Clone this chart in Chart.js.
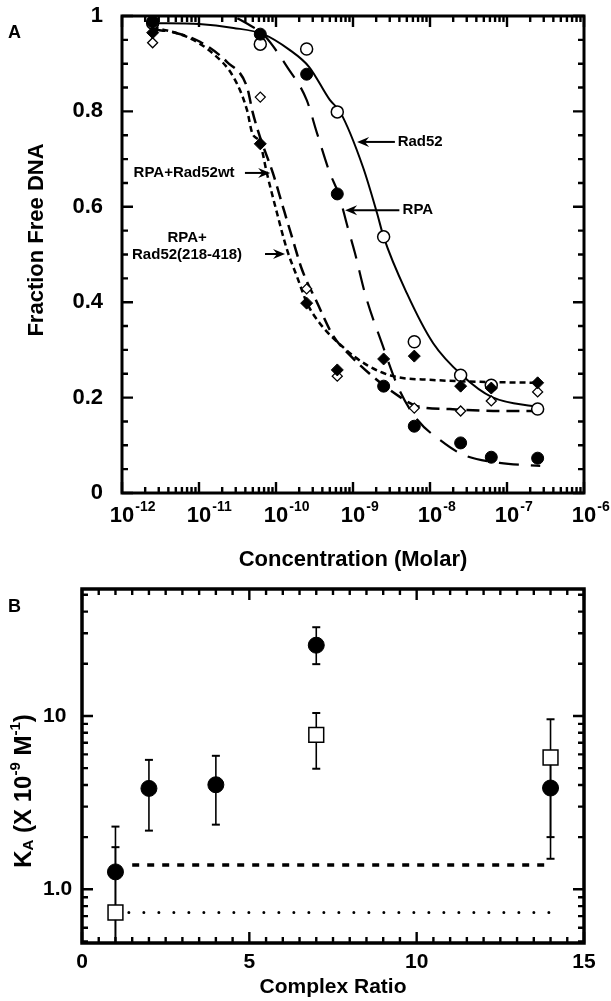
<!DOCTYPE html>
<html>
<head>
<meta charset="utf-8">
<title>Fraction free DNA / K_A</title>
<script src="https://cdn.jsdelivr.net/npm/chart.js@4.4.1/dist/chart.umd.min.js"></script>
<style>
    body { margin: 0; background: #fff; }
    canvas { position: absolute; left: 0; }
    #chartA { top: 0; }
    #chartB { top: 575px; }
</style>
</head>
<body>
<canvas id="chartA" width="611" height="575"></canvas>
<canvas id="chartB" width="611" height="426"></canvas>
<script>
// ---- panel A data: fraction free DNA vs concentration (M)
var conc = [2.5e-12, 6.25e-11, 2.5e-10, 6.25e-10, 2.5e-9, 6.25e-9, 2.5e-8, 6.25e-8, 2.5e-7];
var rad52Free = [0.985, 0.941, 0.931, 0.799, 0.537, 0.317, 0.247, 0.226, 0.176];
var rpaFree = [0.988, 0.962, 0.878, 0.627, 0.224, 0.140, 0.105, 0.075, 0.073];
var wtFree = [0.965, 0.732, 0.398, 0.258, 0.281, 0.287, 0.224, 0.220, 0.231];
var truncFree = [0.944, 0.830, 0.428, 0.245, null, 0.178, 0.172, 0.193, 0.212];

// fitted curves
var rad52FitX = [2.5e-12, 1.0e-11, 2.8e-11, 6.8e-11, 1.5e-10, 2.7e-10, 5.0e-10, 6.8e-10, 1.35e-9, 2.05e-9, 2.5e-9, 5.0e-9, 1.1e-8, 2.6e-8, 6.4e-8, 2.6e-7];
var rad52FitY = [0.985, 0.983, 0.975, 0.962, 0.929, 0.893, 0.824, 0.799, 0.683, 0.587, 0.537, 0.419, 0.314, 0.247, 0.201, 0.180];
var rpaFitX = [2.5e-12, 1.0e-11, 2.8e-11, 5.0e-11, 6.8e-11, 1.4e-10, 2.5e-10, 3.4e-10, 5.0e-10, 6.5e-10, 8.5e-10, 1.06e-9, 1.45e-9, 2.37e-9, 4.0e-9, 6.9e-9, 1.35e-8, 2.7e-8, 8.0e-8, 2.7e-7];
var rpaFitY = [1.09, 1.04, 1.0, 0.977, 0.962, 0.893, 0.824, 0.755, 0.671, 0.627, 0.558, 0.503, 0.415, 0.314, 0.216, 0.153, 0.111, 0.080, 0.063, 0.057];
var wtFitX = [2.5e-12, 7.0e-12, 1.5e-11, 2.8e-11, 4.2e-11, 4.9e-11, 6.2e-11, 7.6e-11, 1.03e-10, 1.39e-10, 1.88e-10, 2.53e-10, 3.7e-10, 7.4e-10, 1.52e-9, 3.3e-9, 1.09e-8, 4.5e-8, 2.6e-7];
var wtFitY = [0.977, 0.956, 0.922, 0.872, 0.803, 0.755, 0.734, 0.671, 0.587, 0.51, 0.453, 0.398, 0.356, 0.306, 0.268, 0.245, 0.237, 0.233, 0.231];
var truncFitX = [2.5e-12, 4.6e-12, 1.03e-11, 2.3e-11, 4.2e-11, 5.0e-11, 6.2e-11, 9.1e-11, 1.23e-10, 1.66e-10, 2.18e-10, 3.4e-10, 5.5e-10, 9.1e-10, 2.05e-9, 4.1e-9, 6.8e-9, 1.8e-8, 8.1e-8, 2.6e-7];
var truncFitY = [0.972, 0.966, 0.946, 0.904, 0.851, 0.797, 0.746, 0.671, 0.600, 0.530, 0.468, 0.40, 0.33, 0.289, 0.237, 0.201, 0.182, 0.176, 0.172, 0.172];

var decades = [-12, -11, -10, -9, -8, -7, -6];

// ---- panel B data: K_A vs complex ratio
var ratio = [1, 2, 4, 7, 14];
var kaWt = [1.26, 3.82, 4.01, 25.6, 3.84];
var kaWtLow = [0.3, 2.18, 2.36, 19.9, 1.50];
var kaWtHigh = [2.30, 5.58, 5.89, 32.5, 5.9];
var ratioTrunc = [1, 7, 14];
var kaTrunc = [0.735, 7.78, 5.76];
var kaTruncLow = [0.3, 4.96, 2.0];
var kaTruncHigh = [1.75, 10.4, 9.57];
var wtRefX = [1.5, 13.9];
var wtRefY = [1.38, 1.38];
var truncRefX = [1.4, 13.95];
var truncRefY = [0.735, 0.735];
var kaTickValues = [1, 10];
var kaTickText = ['1.0', '10'];

var family = "'Liberation Sans', Arial, Helvetica, sans-serif";
Chart.defaults.font.family = family;
Chart.defaults.color = '#000';

function pairs(xs, ys) {
    var out = [];
    for (var i = 0; i < xs.length; i++) {
        if (ys[i] !== null) out.push({x: xs[i], y: ys[i]});
    }
    return out;
}

function markers(data, style, radius, fill, width) {
    return {
        type: 'scatter', data: data, showLine: false, order: 0,
        pointStyle: style, pointRadius: radius, pointHoverRadius: radius,
        pointBackgroundColor: fill, pointBorderColor: '#000', pointBorderWidth: width
    };
}

function curve(data, dash, width, cap) {
    return {
        type: 'line', data: data, order: 2, pointRadius: 0, fill: false,
        borderColor: '#000', borderWidth: width, borderDash: dash,
        borderCapStyle: cap || 'butt', cubicInterpolationMode: 'monotone'
    };
}

function logTicks(lo, hi) {
    var out = [];
    for (var e = lo; e < hi; e++) {
        for (var m = 1; m <= 9; m++) out.push({v: m * Math.pow(10, e), major: m === 1});
    }
    out.push({v: Math.pow(10, hi), major: true});
    return out;
}

function linTicks(max, step, every) {
    var out = [];
    for (var i = 0; i * step <= max + 1e-9; i++) out.push({v: i * step, major: i % every === 0});
    return out;
}

// box frame with inward ticks on all four sides
function framePlugin(xTicks, yTicks, border) {
    return {
        id: 'frame',
        afterDatasetsDraw: function (chart) {
            var ctx = chart.ctx;
            var a = chart.chartArea;
            var sx = chart.scales.x;
            var sy = chart.scales.y;
            ctx.save();
            ctx.strokeStyle = '#000';
            ctx.lineWidth = 2.4;
            ctx.beginPath();
            xTicks.forEach(function (t) {
                var p = sx.getPixelForValue(t.v);
                var len = t.major ? 11 : 6;
                ctx.moveTo(p, a.bottom); ctx.lineTo(p, a.bottom - len);
                ctx.moveTo(p, a.top); ctx.lineTo(p, a.top + len);
            });
            yTicks.forEach(function (t) {
                var p = sy.getPixelForValue(t.v);
                var len = t.major ? 11 : 6;
                ctx.moveTo(a.left, p); ctx.lineTo(a.left + len, p);
                ctx.moveTo(a.right, p); ctx.lineTo(a.right - len, p);
            });
            ctx.stroke();
            ctx.lineWidth = border;
            ctx.strokeRect(a.left, a.top, a.right - a.left, a.bottom - a.top);
            ctx.restore();
        }
    };
}

function arrow(ctx, x1, x2, y) {
    var dir = x2 > x1 ? 1 : -1;
    ctx.beginPath();
    ctx.moveTo(x1, y);
    ctx.lineTo(x2 - dir * 6, y);
    ctx.stroke();
    ctx.beginPath();
    ctx.moveTo(x2, y);
    ctx.lineTo(x2 - dir * 12, y - 5);
    ctx.lineTo(x2 - dir * 8, y);
    ctx.lineTo(x2 - dir * 12, y + 5);
    ctx.closePath();
    ctx.fill();
}

// ---------------- panel A
var notesA = [
    {lines: ['Rad52'], x: 3.8e-9, y: 0.736, align: 'left', from: 3.5e-9, to: 1.13e-9, ay: 0.736},
    {lines: ['RPA'], x: 4.4e-9, y: 0.593, align: 'left', from: 4.0e-9, to: 7.9e-10, ay: 0.593},
    {lines: ['RPA+Rad52wt'], x: 2.9e-11, y: 0.671, align: 'right', from: 3.95e-11, to: 8.4e-11, ay: 0.671},
    {lines: ['RPA+', 'Rad52(218-418)'], x: 7.0e-12, y: 0.535, align: 'center', from: 7.2e-11, to: 1.31e-10, ay: 0.501}
];

var textA = {
    id: 'textA',
    afterDraw: function (chart) {
        var ctx = chart.ctx;
        var a = chart.chartArea;
        var sx = chart.scales.x;
        var sy = chart.scales.y;
        ctx.save();
        ctx.fillStyle = '#000';
        ctx.strokeStyle = '#000';

        ctx.font = 'bold 18px ' + family;
        ctx.textAlign = 'left';
        ctx.textBaseline = 'alphabetic';
        ctx.fillText('A', 8, 38);

        // decade labels 10^n
        decades.forEach(function (e) {
            var p = sx.getPixelForValue(Math.pow(10, e));
            ctx.font = 'bold 22px ' + family;
            var w = ctx.measureText('10').width;
            ctx.textAlign = 'center';
            ctx.fillText('10', p, a.bottom + 29);
            ctx.font = 'bold 14px ' + family;
            ctx.textAlign = 'left';
            ctx.fillText(String(e), p + w / 2 + 1, a.bottom + 18);
        });

        // y title
        ctx.save();
        ctx.translate(37, 240);
        ctx.rotate(-Math.PI / 2);
        ctx.font = 'bold 22px ' + family;
        ctx.textAlign = 'center';
        ctx.textBaseline = 'middle';
        ctx.fillText('Fraction Free DNA', 0, 0);
        ctx.restore();

        // curve labels with arrows
        ctx.font = 'bold 15px ' + family;
        ctx.textBaseline = 'middle';
        ctx.lineWidth = 2;
        notesA.forEach(function (n) {
            var px = sx.getPixelForValue(n.x);
            var py = sy.getPixelForValue(n.y);
            ctx.textAlign = n.align;
            n.lines.forEach(function (t, i) {
                ctx.fillText(t, px, py + i * 17);
            });
            arrow(ctx, sx.getPixelForValue(n.from), sx.getPixelForValue(n.to), sy.getPixelForValue(n.ay));
        });
        ctx.restore();
    }
};

var xTicksA = logTicks(-12, -6);
var yTicksA = linTicks(1, 0.05, 4);

new Chart(document.getElementById('chartA'), {
    type: 'scatter',
    data: {
        datasets: [
            markers(pairs(conc, rpaFree), 'circle', 6, '#000', 1),
            markers(pairs(conc, wtFree), 'rectRot', 6, '#000', 1),
            markers(pairs(conc, truncFree), 'rectRot', 5, '#fff', 1.3),
            markers(pairs(conc, rad52Free), 'circle', 6, '#fff', 1.5),
            curve(pairs(rad52FitX, rad52FitY), [], 2),
            curve(pairs(rpaFitX, rpaFitY), [20, 12], 2.2),
            curve(pairs(wtFitX, wtFitY), [6, 4], 2.5),
            curve(pairs(truncFitX, truncFitY), [13, 7], 2.5)
        ]
    },
    options: {
        responsive: false,
        animation: false,
        devicePixelRatio: 1,
        events: [],
        layout: {padding: {left: 0, right: 27, top: 16, bottom: 0}},
        plugins: {legend: {display: false}, tooltip: {enabled: false}},
        scales: {
            x: {
                type: 'logarithmic', min: 1e-12, max: 1e-6, bounds: 'data',
                grid: {display: false, drawTicks: false},
                border: {display: false},
                ticks: {display: false},
                title: {
                    display: true, text: 'Concentration (Molar)',
                    font: {size: 22, weight: 'bold'}, padding: {top: 0, bottom: 2}
                },
                afterFit: function (s) { s.height = 82; }
            },
            y: {
                min: 0, max: 1,
                grid: {display: false, drawTicks: true, tickLength: 19},
                border: {display: false},
                ticks: {
                    stepSize: 0.2, padding: 0,
                    font: {size: 22, weight: 'bold'},
                    callback: function (v) {
                        var r = Math.round(v * 10) / 10;
                        return (r === 0 || r === 1) ? String(r) : r.toFixed(1);
                    }
                },
                afterFit: function (s) { s.width = 122; }
            }
        }
    },
    plugins: [framePlugin(xTicksA, yTicksA, 3), textA]
});

// ---------------- panel B
var textB = {
    id: 'textB',
    afterDraw: function (chart) {
        var ctx = chart.ctx;
        var sy = chart.scales.y;
        ctx.save();
        ctx.fillStyle = '#000';
        ctx.font = 'bold 18px ' + family;
        ctx.textAlign = 'left';
        ctx.textBaseline = 'alphabetic';
        ctx.fillText('B', 8, 37);

        ctx.font = 'bold 21px ' + family;
        ctx.textBaseline = 'middle';
        kaTickValues.forEach(function (v, i) {
            ctx.fillText(kaTickText[i], 43, sy.getPixelForValue(v));
        });

        // rotated title with sub/superscripts
        var segs = [
            {t: 'K', size: 24, dy: 0},
            {t: 'A', size: 15, dy: 5},
            {t: ' (X 10', size: 24, dy: 0},
            {t: '-9', size: 15, dy: -8},
            {t: ' M', size: 24, dy: 0},
            {t: '-1', size: 15, dy: -8},
            {t: ')', size: 24, dy: 0}
        ];
        var total = 0;
        segs.forEach(function (s) {
            ctx.font = 'bold ' + s.size + 'px ' + family;
            s.w = ctx.measureText(s.t).width;
            total += s.w;
        });
        ctx.translate(24, 216);
        ctx.rotate(-Math.PI / 2);
        var x = -total / 2;
        segs.forEach(function (s) {
            ctx.font = 'bold ' + s.size + 'px ' + family;
            ctx.fillText(s.t, x, s.dy);
            x += s.w;
        });
        ctx.restore();
    }
};

function errorBars(xs, lows, highs) {
    var out = [];
    for (var i = 0; i < xs.length; i++) {
        out.push({
            type: 'line', order: 1, fill: false,
            data: [{x: xs[i], y: lows[i]}, {x: xs[i], y: highs[i]}],
            borderColor: '#000', borderWidth: 1.6,
            pointStyle: 'line', pointRadius: 4, pointHoverRadius: 4,
            pointBorderColor: '#000', pointBorderWidth: 2
        });
    }
    return out;
}

var xTicksB = linTicks(15, 0.5, 10);
var yTicksB = logTicks(-1, 2).filter(function (t) { return t.v >= 0.49 && t.v <= 54; });

var datasetsB = [
    markers(pairs(ratioTrunc, kaTrunc), 'rect', 10.5, '#fff', 1.5),
    markers(pairs(ratio, kaWt), 'circle', 8, '#000', 1)
]
    .concat(errorBars(ratio, kaWtLow, kaWtHigh))
    .concat(errorBars(ratioTrunc, kaTruncLow, kaTruncHigh))
    .concat([
        curve(pairs(wtRefX, wtRefY), [7, 8], 3.5),
        curve(pairs(truncRefX, truncRefY), [0, 15], 3, 'round')
    ]);

new Chart(document.getElementById('chartB'), {
    type: 'scatter',
    data: {datasets: datasetsB},
    options: {
        responsive: false,
        animation: false,
        devicePixelRatio: 1,
        events: [],
        layout: {padding: {left: 0, right: 27, top: 14, bottom: 0}},
        plugins: {legend: {display: false}, tooltip: {enabled: false}},
        scales: {
            x: {
                type: 'linear', min: 0, max: 15,
                grid: {display: false, drawTicks: false},
                border: {display: false},
                ticks: {stepSize: 5, padding: 7, font: {size: 21, weight: 'bold'}},
                title: {
                    display: true, text: 'Complex Ratio',
                    font: {size: 21, weight: 'bold'}, padding: {top: 0, bottom: 1}
                },
                afterFit: function (s) { s.height = 58; }
            },
            y: {
                type: 'logarithmic', min: 0.49, max: 54, bounds: 'data',
                grid: {display: false, drawTicks: false},
                border: {display: false},
                ticks: {display: false},
                afterFit: function (s) { s.width = 82; }
            }
        }
    },
    plugins: [framePlugin(xTicksB, yTicksB, 3.5), textB]
});
</script>
</body>
</html>
